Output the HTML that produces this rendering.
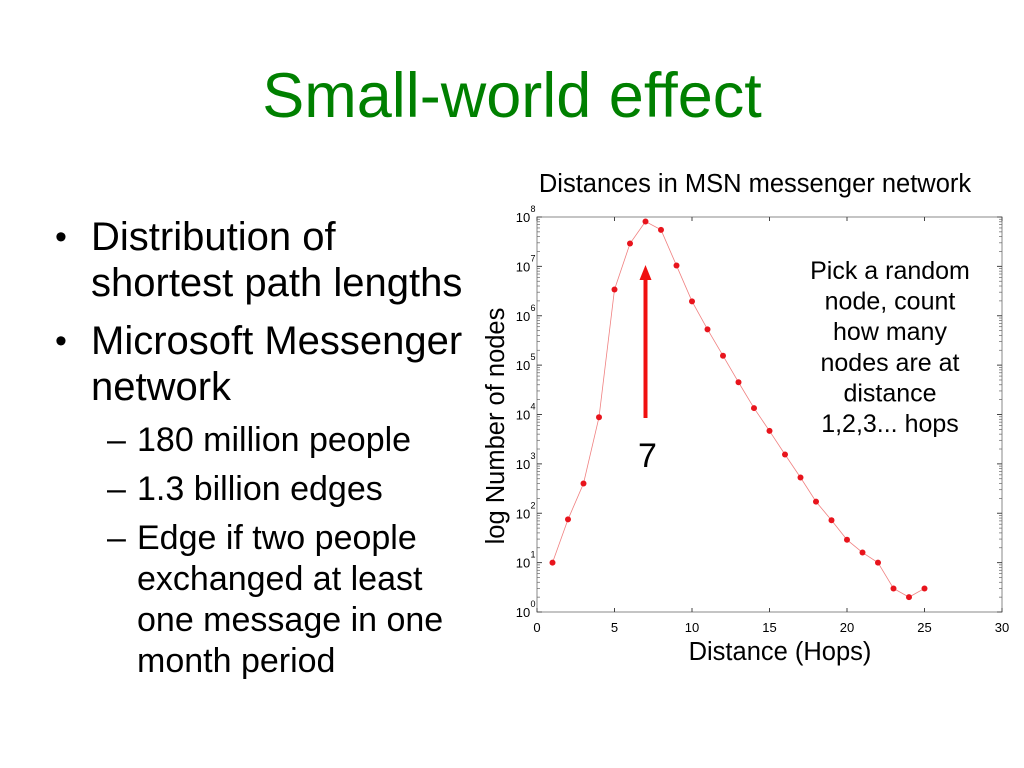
<!DOCTYPE html>
<html><head><meta charset="utf-8"><style>
body{margin:0;width:1024px;height:768px;background:#fff;font-family:"Liberation Sans",sans-serif;overflow:hidden;position:relative}
.t{position:absolute;white-space:nowrap;color:#000}
</style></head><body>
<div class="t" style="left:0;width:1024px;text-align:center;top:60px;font-size:63px;color:#008000">Small-world effect</div>
<div>
<div class="t" style="left:55px;top:214px;font-size:34px;line-height:46px">•</div>
<div class="t" style="left:91px;top:214px;font-size:40px;line-height:46px">Distribution of<br>shortest path lengths</div>
<div class="t" style="left:55px;top:318px;font-size:34px;line-height:46px">•</div>
<div class="t" style="left:91px;top:318px;font-size:40px;line-height:46px">Microsoft Messenger<br>network</div>
<div class="t" style="left:107px;top:420px;font-size:34px;line-height:41px">–</div>
<div class="t" style="left:137px;top:420px;font-size:34px;line-height:41px">180 million people</div>
<div class="t" style="left:107px;top:469px;font-size:34px;line-height:41px">–</div>
<div class="t" style="left:137px;top:469px;font-size:34px;line-height:41px">1.3 billion edges</div>
<div class="t" style="left:107px;top:518px;font-size:34px;line-height:41px">–</div>
<div class="t" style="left:137px;top:518px;font-size:34px;line-height:41px">Edge if two people<br>exchanged at least<br>one message in one<br>month period</div>
</div>
<svg id="chart" width="1024" height="768" style="position:absolute;left:0;top:0" font-family="Liberation Sans, sans-serif"></svg>
<script>
const distances=[1,2,3,4,5,6,7,8,9,10,11,12,13,14,15,16,17,18,19,20,21,22,23,24,25];
const nodeCounts=[10,75,400,8800,3.4e6,2.9e7,8.1e7,5.5e7,1.04e7,1.96e6,5.3e5,1.55e5,4.5e4,1.35e4,4650,1550,530,172,72,29,16,10,3,2,3];
const xTicks=[0,5,10,15,20,25,30];
const yExps=[0,1,2,3,4,5,6,7,8];
const NS="http://www.w3.org/2000/svg";
const svg=document.getElementById('chart');
const X0=537,X1=1002,Y0=612,Y1=217;
const xs=v=>X0+(v-0)/30*(X1-X0);
const ys=v=>Y0-Math.log10(v)/8*(Y0-Y1);
function mk(tag,attrs,parent){const e=document.createElementNS(NS,tag);for(const k in attrs)e.setAttribute(k,attrs[k]);(parent||svg).appendChild(e);return e;}
const ax=mk('g',{});


const box=mk('rect',{x:X0,y:Y1,width:X1-X0,height:Y0-Y1,fill:'none',stroke:'#888','stroke-width':1},ax);


xTicks.forEach(t=>{
 const x=xs(t);
 mk('line',{x1:x,x2:x,y1:Y0,y2:Y0-4,stroke:'#444'},ax);
 mk('line',{x1:x,x2:x,y1:Y1,y2:Y1+4,stroke:'#444'},ax);
 const tx=mk('text',{x:x,y:Y0+20,'font-size':13,'text-anchor':'middle'},ax);
 tx.textContent=t;
 
 
});
yExps.forEach(e=>{
 const y=ys(Math.pow(10,e));
 mk('line',{x1:X0,x2:X0+5,y1:y,y2:y,stroke:'#444'},ax);
 mk('line',{x1:X1,x2:X1-5,y1:y,y2:y,stroke:'#444'},ax);
 if(e<8){for(let m=2;m<10;m++){const yy=ys(m*Math.pow(10,e));
  mk('line',{x1:X0,x2:X0+3,y1:yy,y2:yy,stroke:'#666','stroke-width':0.7},ax);
  mk('line',{x1:X1,x2:X1-3,y1:yy,y2:yy,stroke:'#666','stroke-width':0.7},ax);}}
 const tx=mk('text',{x:X0-14,y:y+5,'font-size':13,'text-anchor':'middle'},ax);
 tx.textContent='10';
 
 
 const sp=mk('text',{x:X0-4,y:y-5,'font-size':9,'text-anchor':'middle'},ax);
 sp.textContent=e;
});
const line=mk('polyline',{points:distances.map((d,i)=>xs(d)+','+ys(nodeCounts[i])).join(' '),fill:'none',stroke:'#f08080','stroke-width':0.8});


distances.forEach((d,i)=>{
 const c=mk('circle',{cx:xs(d),cy:ys(nodeCounts[i]),r:3,fill:'#e8141c'});
 
 
});
const arrow=mk('g',{});


mk('line',{x1:xs(7),x2:xs(7),y1:418,y2:278,stroke:'#f01010','stroke-width':4},arrow);
mk('polygon',{points:`${xs(7)-6},280 ${xs(7)+6},280 ${xs(7)},265`,fill:'#f01010'},arrow);
const seven=mk('text',{x:xs(7)+2,y:467,'font-size':34,'text-anchor':'middle'});
seven.textContent='7';


const ct=mk('text',{x:755,y:192,'font-size':25.5,'text-anchor':'middle'});
ct.textContent='Distances in MSN messenger network';


const xl=mk('text',{x:780,y:660,'font-size':25.5,'text-anchor':'middle'});
xl.textContent='Distance (Hops)';


const yl=mk('text',{x:0,y:0,'font-size':25.5,'text-anchor':'middle',transform:'translate(504,426) rotate(-90)'});
yl.textContent='log Number of nodes';


const notes=['Pick a random','node, count','how many','nodes are at','distance','1,2,3... hops'];
const ng=mk('g',{});


notes.forEach((s,i)=>{const t=mk('text',{x:890,y:279+i*30.6,'font-size':25,'text-anchor':'middle'},ng);t.textContent=s;});
</script>
</body></html>
